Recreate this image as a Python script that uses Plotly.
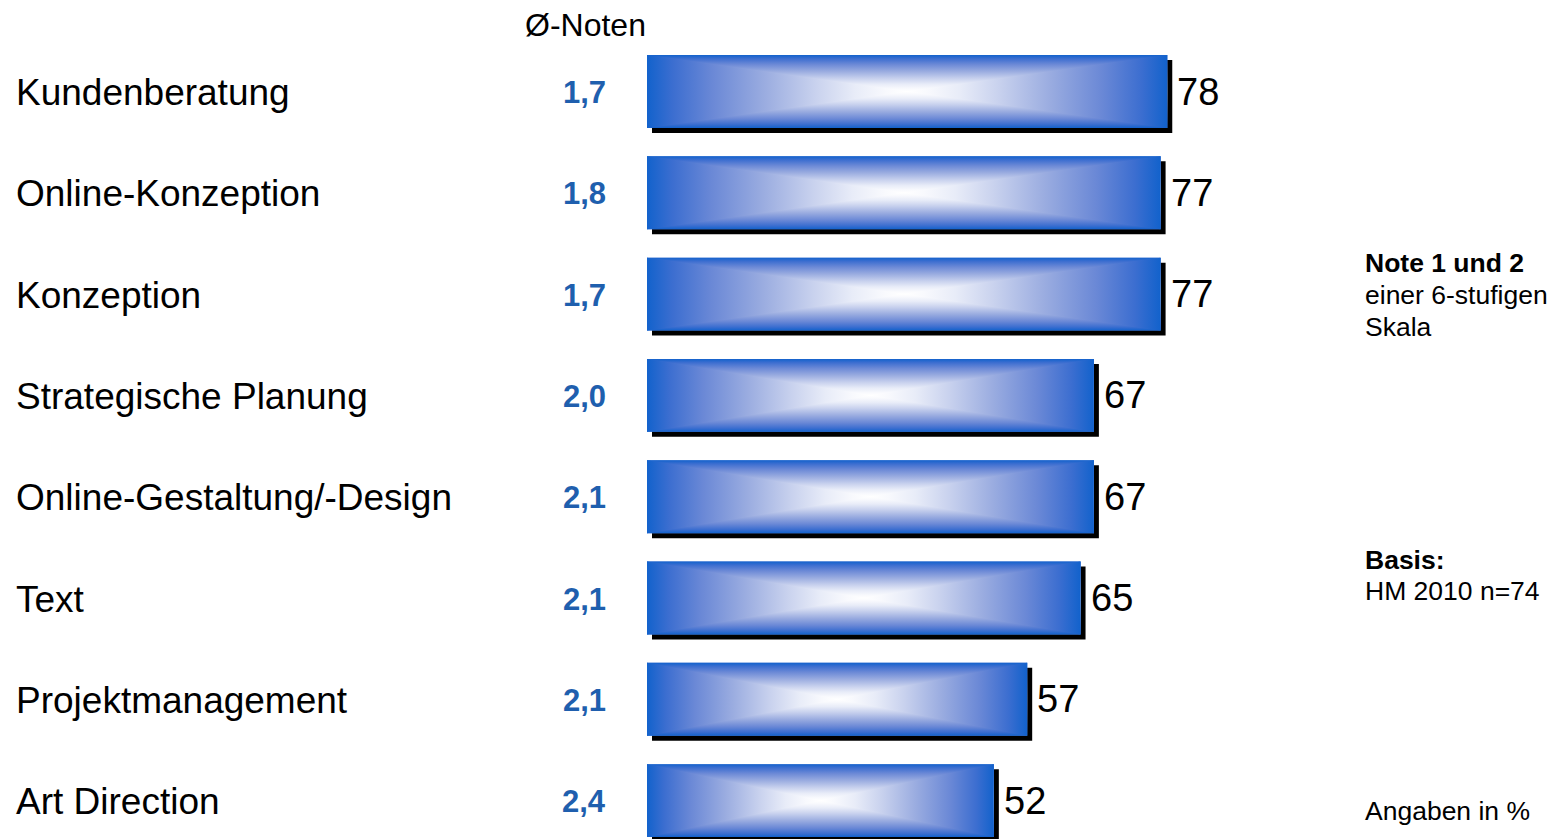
import plotly.graph_objects as go

categories = ["Kundenberatung", "Online-Konzeption", "Konzeption", "Strategische Planung",
              "Online-Gestaltung/-Design", "Text", "Projektmanagement", "Art Direction"]
values = [78, 77, 77, 67, 67, 65, 57, 52]
noten = ["1,7", "1,8", "1,7", "2,0", "2,1", "2,1", "2,1", "2,4"]
side_notes = [("<b>Note 1 und 2</b>", 263), ("einer 6-stufigen", 295), ("Skala", 327),
              ("<b>Basis:</b>", 560), ("HM 2010 n=74", 591), ("Angaben in %", 811)]

FONT = "Liberation Sans, Arial, sans-serif"
W_PX, H_PX = 1564, 839
ML, MR = 647, 250
XMAX = 100
PW = W_PX - ML - MR
px_per_x = PW / XMAX
row0, row_step = 91.5, 101.3
y_top = -row0 / row_step
y_bot = (H_PX - row0) / row_step
BAR_W = 0.72
h = BAR_W / 2
sx = 5 / px_per_x
sy = 5 / row_step


def px2paper(px):
    return (px - ML) / PW


half = [[0, "#1262cc"], [0.1, "#3c6ed0"], [0.25, "#6a88d6"], [0.45, "#9aace0"],
        [0.65, "#c9d2ee"], [0.8, "#e8ecf8"], [0.92, "#f8f9fd"], [1, "#ffffff"]]
h_scale = half
h_rev = [[1 - p, c] for p, c in reversed(half)]
v_scale = [[p / 2, c] for p, c in half] + [[1 - p / 2, c] for p, c in reversed(half[:-1])]

ys = list(range(len(categories)))
fig = go.Figure()

# shadows
fig.add_trace(go.Bar(y=[y + sy for y in ys], x=values, base=sx, orientation="h",
                     width=BAR_W, marker=dict(color="#000000", line=dict(width=0)),
                     hoverinfo="skip", showlegend=False))
# base bars
fig.add_trace(go.Bar(y=ys, x=values, orientation="h", width=BAR_W,
                     marker=dict(color="#5f84d6", line=dict(width=0)),
                     showlegend=False, name="Note 1 und 2"))

for y, v in zip(ys, values):
    c = y
    m = v / 2
    # full bar with vertical gradient
    fig.add_trace(go.Scatter(x=[0, v, v, 0, 0], y=[c - h, c - h, c + h, c + h, c - h],
                             mode="lines", fill="toself", line=dict(width=0),
                             hoverinfo="skip", showlegend=False,
                             fillgradient=dict(type="vertical", start=c - h, stop=c + h,
                                               colorscale=v_scale)))
    # left / right triangles with horizontal gradient
    fig.add_trace(go.Scatter(x=[0, m, 0, 0], y=[c - h, c, c + h, c - h],
                             mode="lines", fill="toself", line=dict(width=0),
                             hoverinfo="skip", showlegend=False,
                             fillgradient=dict(type="horizontal", start=0, stop=m,
                                               colorscale=h_scale)))
    fig.add_trace(go.Scatter(x=[v, m, v, v], y=[c - h, c, c + h, c - h],
                             mode="lines", fill="toself", line=dict(width=0),
                             hoverinfo="skip", showlegend=False,
                             fillgradient=dict(type="horizontal", start=m, stop=v,
                                               colorscale=h_rev)))

ann = []
for y, cat, v, n in zip(ys, categories, values, noten):
    ypaper = 1 - (row0 + 1 + y * row_step) / H_PX
    ann.append(dict(x=px2paper(14), y=ypaper, xref="paper", yref="paper", text=cat,
                    showarrow=False, xanchor="left", yanchor="middle",
                    font=dict(family=FONT, size=37, color="#000000")))
    ann.append(dict(x=px2paper(608), y=ypaper, xref="paper", yref="paper", text=f"<b>{n}</b>",
                    showarrow=False, xanchor="right", yanchor="middle",
                    font=dict(family=FONT, size=31, color="#1f5fae")))
    ann.append(dict(x=v, y=y, xref="x", yref="y", text=str(v), xshift=8,
                    showarrow=False, xanchor="left", yanchor="middle",
                    font=dict(family=FONT, size=38, color="#000000")))

ann.append(dict(x=px2paper(585), y=1 - 25 / H_PX, xref="paper", yref="paper",
                text="Ø-Noten", showarrow=False, xanchor="center", yanchor="middle",
                font=dict(family=FONT, size=32, color="#000000")))
rx = px2paper(1363)
for txt, py in side_notes:
    ann.append(dict(x=rx, y=1 - py / H_PX, xref="paper", yref="paper",
                    text=txt, align="left", showarrow=False, xanchor="left", yanchor="middle",
                    font=dict(family=FONT, size=26.5, color="#000000")))

fig.update_layout(
    width=W_PX, height=H_PX,
    margin=dict(l=ML, r=MR, t=0, b=0),
    paper_bgcolor="#ffffff", plot_bgcolor="#ffffff",
    barmode="overlay", showlegend=False,
    xaxis=dict(range=[0, XMAX], visible=False, fixedrange=True),
    yaxis=dict(range=[y_bot, y_top], visible=False, fixedrange=True),
    annotations=ann,
)

fig.write_html("out.html", config={"displayModeBar": False},
               post_script="document.body.style.margin='0px';")
